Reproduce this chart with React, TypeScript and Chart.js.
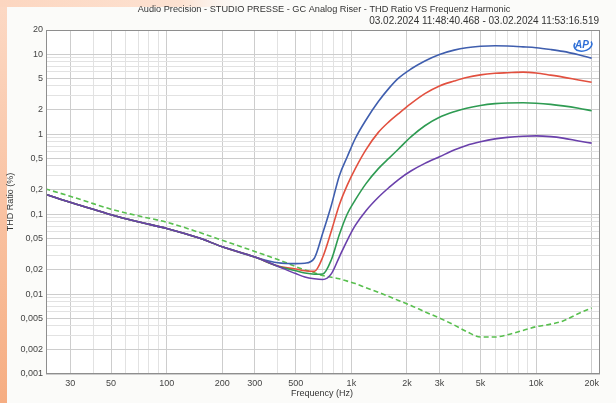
import React, { useEffect, useRef } from 'react';
import { Chart, registerables } from 'chart.js';

Chart.register(...registerables);

const FREQ = [20, 30, 40, 50, 70, 100, 150, 200, 300, 400, 500, 560, 630, 700, 780, 860, 950, 1050, 1200, 1400, 1600, 1800, 2100, 2500, 3000, 3600, 4200, 5000, 6000, 7000, 8500, 10000, 12000, 14000, 17000, 20000];

const BLUE = [0.19, 0.14, 0.115, 0.098, 0.08, 0.066, 0.05, 0.039, 0.029, 0.0246, 0.024, 0.0243, 0.028, 0.058, 0.13, 0.3, 0.52, 0.88, 1.5, 2.55, 3.75, 5.0, 6.5, 8.2, 9.9, 11.2, 12.0, 12.5, 12.7, 12.6, 12.3, 12.0, 11.4, 10.8, 9.8, 8.9];
const RED = [0.19, 0.14, 0.115, 0.098, 0.08, 0.066, 0.05, 0.039, 0.029, 0.0224, 0.0205, 0.0195, 0.0192, 0.029, 0.062, 0.13, 0.23, 0.37, 0.64, 1.05, 1.43, 1.8, 2.4, 3.2, 4.0, 4.6, 5.1, 5.5, 5.75, 5.85, 5.95, 5.8, 5.45, 5.15, 4.75, 4.45];
const GREEN = [0.19, 0.14, 0.115, 0.098, 0.08, 0.066, 0.05, 0.039, 0.029, 0.0222, 0.0195, 0.0183, 0.0177, 0.0178, 0.027, 0.055, 0.1, 0.15, 0.24, 0.37, 0.5, 0.65, 0.92, 1.27, 1.62, 1.9, 2.1, 2.28, 2.4, 2.45, 2.46, 2.43, 2.35, 2.25, 2.1, 1.96];
const PURPLE = [0.19, 0.14, 0.115, 0.098, 0.08, 0.066, 0.05, 0.039, 0.029, 0.0222, 0.018, 0.0163, 0.0155, 0.0152, 0.018, 0.029, 0.047, 0.072, 0.11, 0.162, 0.215, 0.27, 0.345, 0.43, 0.52, 0.63, 0.72, 0.8, 0.87, 0.91, 0.94, 0.95, 0.93, 0.89, 0.82, 0.77];
const DASHED = [0.22, 0.167, 0.135, 0.115, 0.095, 0.079, 0.059, 0.047, 0.034, 0.027, 0.022, 0.02, 0.0185, 0.017, 0.0162, 0.0155, 0.0145, 0.0135, 0.012, 0.0105, 0.0093, 0.0083, 0.0072, 0.006, 0.005, 0.0041, 0.0034, 0.0029, 0.0029, 0.0031, 0.0035, 0.0039, 0.0042, 0.0046, 0.0057, 0.0067];

const X_MAJOR = [30, 50, 100, 200, 300, 500, 1000, 2000, 3000, 5000, 10000, 20000];
const X_LABELS = ['30', '50', '100', '200', '300', '500', '1k', '2k', '3k', '5k', '10k', '20k'];
const Y_MAJOR = [0.001, 0.002, 0.005, 0.01, 0.02, 0.05, 0.1, 0.2, 0.5, 1, 2, 5, 10, 20];
const Y_LABELS = ['0,001', '0,002', '0,005', '0,01', '0,02', '0,05', '0,1', '0,2', '0,5', '1', '2', '5', '10', '20'];

const TITLE = 'Audio Precision - STUDIO PRESSE - GC Analog Riser - THD Ratio VS Frequenz Harmonic';
const SUBTITLE = '03.02.2024 11:48:40.468 - 03.02.2024 11:53:16.519';
const X_TITLE = 'Frequency (Hz)';
const Y_TITLE = 'THD Ratio (%)';

const X_MIN = 22.2;
const X_MAX = 22200;
const Y_MIN = 0.001;
const Y_MAX = 20;

const FONT = "'Liberation Sans', Arial, sans-serif";

function gridValues(min: number, max: number): number[] {
  const out: number[] = [];
  for (let e = -4; e <= 5; e++) {
    for (let m = 1; m <= 9; m++) {
      const v = parseFloat((m * Math.pow(10, e)).toPrecision(6));
      if (v >= min * 0.9999 && v <= max * 1.0001) out.push(v);
    }
  }
  return out;
}
const near = (a: number, b: number) => Math.abs(a / b - 1) < 1e-6;
const labelFor = (v: number, majors: number[], labels: string[]) => {
  const i = majors.findIndex((m) => near(v, m));
  return i >= 0 ? labels[i] : '';
};

const decor = {
  id: 'decor',
  beforeDraw(chart: any) {
    const { ctx, width, height, chartArea: a } = chart;
    ctx.save();
    ctx.fillStyle = '#fbfbf9';
    ctx.fillRect(0, 0, width, height);
    let g = ctx.createLinearGradient(0, 0, 0, height);
    g.addColorStop(0, '#fcd9c5');
    g.addColorStop(1, '#f6ad82');
    ctx.fillStyle = g;
    ctx.fillRect(0, 0, 7, height);
    g = ctx.createLinearGradient(0, 0, 260, 0);
    g.addColorStop(0, '#fcd6c0');
    g.addColorStop(0.7, '#fde2d2');
    g.addColorStop(1, 'rgba(251,251,249,0)');
    ctx.fillStyle = g;
    ctx.fillRect(0, 0, 260, 7);
    ctx.fillStyle = '#ffffff';
    ctx.fillRect(a.left, a.top, a.right - a.left, a.bottom - a.top);
    ctx.restore();
  },
  afterDraw(chart: any) {
    const { ctx, chartArea: a } = chart;
    ctx.save();
    ctx.strokeStyle = '#8e8e8e';
    ctx.lineWidth = 1;
    ctx.strokeRect(a.left + 0.5, a.top + 0.5, a.right - a.left - 1, a.bottom - a.top - 1);

    ctx.fillStyle = '#333';
    ctx.textBaseline = 'middle';
    ctx.textAlign = 'center';
    ctx.font = `9.2px ${FONT}`;
    ctx.fillText(TITLE, (a.left + a.right) / 2 + 1, 9);
    ctx.textAlign = 'right';
    ctx.font = `10px ${FONT}`;
    ctx.fillText(SUBTITLE, a.right - 1, 21);
    ctx.textAlign = 'center';
    ctx.font = `9px ${FONT}`;
    ctx.fillText(X_TITLE, 322, 394);
    ctx.save();
    ctx.translate(11, (a.top + a.bottom) / 2);
    ctx.rotate(-Math.PI / 2);
    ctx.fillText(Y_TITLE, 0, 0);
    ctx.restore();

    // AP logo
    const lx = a.right - 17;
    const ly = a.top + 15;
    ctx.strokeStyle = '#2f6fd6';
    ctx.lineWidth = 1.5;
    ctx.beginPath();
    ctx.ellipse(lx, ly, 9, 6, -0.2, -0.3, Math.PI * 1.2);
    ctx.stroke();
    ctx.fillStyle = '#2f6fd6';
    ctx.font = `italic bold 10px ${FONT}`;
    ctx.textAlign = 'center';
    ctx.fillText('AP', lx - 1, ly);
    ctx.restore();
  },
};

export default function App() {
  const ref = useRef<HTMLCanvasElement | null>(null);
  useEffect(() => {
    if (!ref.current) return;
    const mk = (vals: number[]) => FREQ.map((f, i) => ({ x: f, y: vals[i] }));
    const common = { pointRadius: 0, borderWidth: 1.6, cubicInterpolationMode: 'monotone' as const, clip: 0, fill: false };
    const tickFont = { family: FONT, size: 9 };
    const chart = new Chart(ref.current, {
      type: 'line',
      data: {
        datasets: [
          { ...common, label: 'Purple', data: mk(PURPLE), borderColor: '#6a40ab' },
          { ...common, label: 'Green', data: mk(GREEN), borderColor: '#2e9b52' },
          { ...common, label: 'Red', data: mk(RED), borderColor: '#e2503f' },
          { ...common, label: 'Blue', data: mk(BLUE), borderColor: '#3f5eae' },
          { ...common, label: 'Dashed', data: mk(DASHED), borderColor: '#58bf4e', borderDash: [5, 3] },
        ],
      },
      options: {
        animation: false,
        responsive: true,
        maintainAspectRatio: false,
        layout: { padding: { top: 30, right: 16, bottom: 0, left: 0 } },
        plugins: { legend: { display: false }, tooltip: { enabled: false }, title: { display: false } },
        scales: {
          x: {
            type: 'logarithmic',
            min: X_MIN,
            max: X_MAX,
            afterBuildTicks: (s: any) => {
              s.ticks = gridValues(X_MIN, X_MAX).map((v) => ({ value: v }));
            },
            afterFit: (s: any) => {
              s.height = 29;
            },
            ticks: {
              autoSkip: false,
              maxRotation: 0,
              padding: 4,
              color: '#444',
              font: tickFont,
              callback: (v: any) => labelFor(Number(v), X_MAJOR, X_LABELS),
            },
            grid: {
              drawTicks: false,
              color: (c: any) => (c.tick && X_MAJOR.some((m) => near(c.tick.value, m)) ? '#cdcdcd' : '#e2e2e2'),
            },
            border: { display: false },
          },
          y: {
            type: 'logarithmic',
            min: Y_MIN,
            max: Y_MAX,
            afterBuildTicks: (s: any) => {
              s.ticks = gridValues(Y_MIN, Y_MAX).map((v) => ({ value: v }));
            },
            afterFit: (s: any) => {
              s.width = 46;
            },
            ticks: {
              autoSkip: false,
              padding: 3,
              color: '#444',
              font: tickFont,
              callback: (v: any) => labelFor(Number(v), Y_MAJOR, Y_LABELS),
            },
            grid: {
              drawTicks: false,
              color: (c: any) => (c.tick && Y_MAJOR.some((m) => near(c.tick.value, m)) ? '#cdcdcd' : '#e2e2e2'),
            },
            border: { display: false },
          },
        },
      },
      plugins: [decor],
    } as any);
    return () => chart.destroy();
  }, []);
  return (
    <div style={{ position: 'fixed', left: 0, top: 0, width: 616, height: 403 }}>
      <canvas ref={ref} />
    </div>
  );
}
